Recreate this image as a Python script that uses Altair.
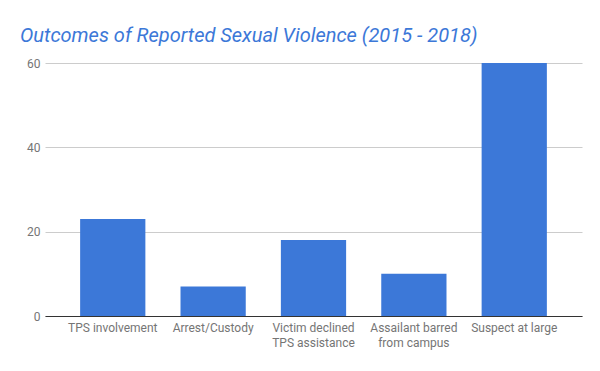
import altair as alt
import pandas as pd

categories = ["TPS involvement", "Arrest/Custody", "Victim declined\nTPS assistance",
              "Assailant barred\nfrom campus", "Suspect at large"]
values = [23, 7, 18, 10, 60]

df = pd.DataFrame({"cat": categories, "val": values})

chart = alt.Chart(df).mark_bar(color="#3c78d8").encode(
    x=alt.X("cat:N", sort=categories, title=None,
            scale=alt.Scale(paddingInner=0.35, paddingOuter=0.35),
            axis=alt.Axis(labelAngle=0, labelExpr="split(datum.label, '\\n')",
                          labelFont="Roboto", labelFontSize=12, labelColor="#757575",
                          labelPadding=6, labelLineHeight=15, ticks=False,
                          domainColor="#333333", domainWidth=1, grid=False)),
    y=alt.Y("val:Q", title=None,
            scale=alt.Scale(domain=[0, 60], nice=False),
            axis=alt.Axis(values=[0, 20, 40, 60], labelFont="Roboto", labelFontSize=12,
                          labelColor="#757575", labelPadding=5, ticks=False, domain=False,
                          gridColor="#cccccc")),
).properties(
    width=537, height=253,
    autosize=alt.AutoSizeParams(type="none"),
    padding={"left": 37, "top": 55, "right": 10, "bottom": 47},
    title=alt.TitleParams("Outcomes of Reported Sexual Violence (2015 - 2018)",
                          anchor="start", frame="group", font="Roboto", fontSize=20,
                          fontStyle="italic", fontWeight="normal", color="#3c78d8",
                          dx=-25, offset=11),
).configure_view(stroke=None)

chart.save("out.html", embed_options={"renderer": "svg", "actions": False})
